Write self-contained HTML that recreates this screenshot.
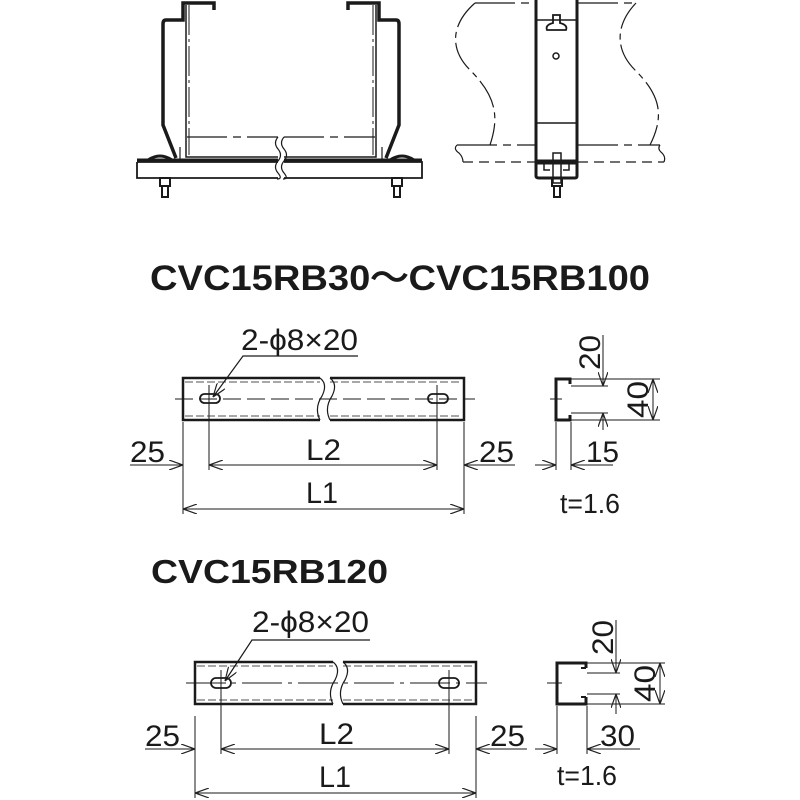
<!DOCTYPE html>
<html><head><meta charset="utf-8"><style>
html,body{margin:0;padding:0;background:#fff;}
svg{display:block;}
text{font-family:"Liberation Sans",sans-serif;fill:#1a1a1a;}
</style></head><body>
<svg width="800" height="800" viewBox="0 0 800 800" xmlns="http://www.w3.org/2000/svg">
<defs>
<marker id="a" markerWidth="14" markerHeight="10" refX="14" refY="5" orient="auto" markerUnits="userSpaceOnUse">
<path d="M0,0 L14,5 L0,10" fill="none" stroke="#222" stroke-width="1.2"/></marker>
<marker id="b" markerWidth="14" markerHeight="10" refX="0" refY="5" orient="auto" markerUnits="userSpaceOnUse">
<path d="M14,0 L0,5 L14,10" fill="none" stroke="#222" stroke-width="1.2"/></marker>
</defs>
<g stroke="#1a1a1a" fill="none">
<!-- top-left view -->
<path d="M214,10 V3 H183 V20 H166 Q163,20 163,24 V125 L176,158" stroke-width="3.5"/>
<path d="M348,10 V3 H379 V20 H396 Q399,20 399,24 V125 L386,158" stroke-width="3.5"/>
<path d="M186,5 V157 H278 M284,157 H376 V5" stroke-width="1.5"/>
<path d="M189,5 V155 M373,5 V155" stroke-width="1" stroke-dasharray="30 4 3 4"/>
<path d="M187,137 H278 M284,137 H375" stroke-width="1.2" stroke-dasharray="40 6 8 6"/>
<path d="M137,162 H278 M284,162 H422 V178 H284 M278,178 H137 V162" stroke-width="1.8"/>
<path d="M137,160 H278 M284,160 H422" stroke-width="3"/>
<path d="M278,137 q-5,6 0,12 q5,6 0,12 q-5,6 0,12 q5,6 -1,6 M284,137 q-5,6 0,12 q5,6 0,12 q-5,6 0,12 q5,6 -1,6" stroke-width="1.2"/>
<path d="M148,160 Q160,152 172,160 M390,160 Q402,152 414,160" stroke-width="3"/>
<path d="M180,147 V160 M382,147 V160" stroke-width="1.2"/>
<rect x="160" y="178" width="10" height="8" stroke-width="2"/>
<rect x="162" y="186" width="6" height="11" stroke-width="2"/>
<rect x="392" y="178" width="10" height="8" stroke-width="2"/>
<rect x="394" y="186" width="6" height="11" stroke-width="2"/>
<!-- top-right view -->
<path d="M475,3 H535 M578,3 H636" stroke-width="1.2" stroke-dasharray="40 6 8 6"/>
<path d="M475,3 C450,25 450,50 470,70 C495,95 500,115 490,145" stroke-width="1.2" stroke-dasharray="30 5 6 5"/>
<path d="M636,3 C615,25 615,50 635,70 C660,95 665,115 650,145" stroke-width="1.2" stroke-dasharray="30 5 6 5"/>
<path d="M457,145 H535 M578,145 H660" stroke-width="1.2" stroke-dasharray="40 6 8 6"/>
<path d="M463,162 H535 M578,162 H664" stroke-width="1.2" stroke-dasharray="10 6"/>
<path d="M457,145 q-4,4 2,8 q4,4 4,9 M660,145 q-3,4 2,8 q4,4 2,9" stroke-width="1.2"/>
<path d="M536,0 V176 Q536,178 539,178 H575 Q577,178 577,176 V0" stroke-width="3"/>
<path d="M536,20 H577 M536,123 H577" stroke-width="1.5"/>
<path d="M553,15 h7 v8 q8,2 6,7 h-19 q-2,-5 6,-7 Z" stroke-width="1.8"/>
<circle cx="556" cy="56" r="3" stroke-width="1.5"/>
<path d="M536,162 H577" stroke-width="5"/>
<path d="M544,164 v6 h6 M569,164 v6 h-6" stroke-width="1.5"/>
<rect x="553" y="153" width="8" height="30" stroke-width="1.5"/>
<rect x="552" y="178" width="10" height="8" stroke-width="2"/>
<rect x="554" y="186" width="6" height="11" stroke-width="2"/>
</g>
<text x="150" y="290" font-size="35" font-weight="bold" textLength="500" lengthAdjust="spacingAndGlyphs">CVC15RB30～CVC15RB100</text>

<!-- bar 1 -->
<g stroke="#1a1a1a" fill="none">
<path d="M320,378 H183 V420 H320 M330,378 H464 V420 H330" stroke-width="2.5"/>
<path d="M185,382 H320 M330,382 H462 M185,416 H320 M330,416 H462" stroke-width="0.8" stroke-dasharray="8 3"/>
<path d="M320,378 q8,6 2,18 q-8,12 -2,24 M330,378 q8,6 2,18 q-8,12 -2,24" stroke-width="1.2"/>
<path d="M175,399 H475" stroke-width="1" stroke-dasharray="18 6"/>
<rect x="200" y="394" width="20" height="9" rx="4.5" stroke-width="1.8"/>
<rect x="428" y="394" width="20" height="9" rx="4.5" stroke-width="1.8"/>
<path d="M209,385 V470 M437,385 V470 M183,422 V514 M464,422 V514" stroke-width="1"/>
<path d="M358,356 H243 L213,397" stroke-width="1.2" marker-end="url(#a)"/>
<path d="M130,465 H183" stroke-width="1" marker-end="url(#a)"/>
<path d="M209,465 H437" stroke-width="1" marker-start="url(#b)" marker-end="url(#a)"/>
<path d="M515,465 H464" stroke-width="1" marker-end="url(#a)"/>
<path d="M183,509 H464" stroke-width="1" marker-start="url(#b)" marker-end="url(#a)"/>
<!-- section 1 -->
<path d="M570,384 V379 H556 V420 H570 V415" stroke-width="3"/>
<path d="M550,399 H562" stroke-width="1"/>
<path d="M571,379 H660 M571,420 H660 M571,386 H608 M571,413 H608" stroke-width="1"/>
<path d="M603,335 V386" stroke-width="1" marker-end="url(#a)"/>
<path d="M603,430 V413" stroke-width="1" marker-end="url(#a)"/>
<path d="M653,379 V420" stroke-width="1" marker-start="url(#b)" marker-end="url(#a)"/>
<path d="M556,422 V470 M571,422 V470" stroke-width="1"/>
<path d="M535,465 H556" stroke-width="1" marker-end="url(#a)"/>
<path d="M613,465 H571" stroke-width="1" marker-end="url(#a)"/>
</g>
<text x="241" y="350" font-size="30" textLength="117" lengthAdjust="spacingAndGlyphs">2-ϕ8×20</text>
<text x="130" y="462" font-size="30" textLength="35" lengthAdjust="spacingAndGlyphs">25</text>
<text x="479" y="462" font-size="30" textLength="35" lengthAdjust="spacingAndGlyphs">25</text>
<text x="306" y="460" font-size="30" textLength="35" lengthAdjust="spacingAndGlyphs">L2</text>
<text x="306" y="503" font-size="30" textLength="32" lengthAdjust="spacingAndGlyphs">L1</text>
<text x="586" y="462" font-size="30" textLength="33" lengthAdjust="spacingAndGlyphs">15</text>
<text x="560" y="513" font-size="28" textLength="60" lengthAdjust="spacingAndGlyphs">t=1.6</text>
<text transform="translate(600,370) rotate(-90)" font-size="30" textLength="35" lengthAdjust="spacingAndGlyphs">20</text>
<text transform="translate(648,418) rotate(-90)" font-size="30" textLength="37" lengthAdjust="spacingAndGlyphs">40</text>

<text x="151" y="583" font-size="33" font-weight="bold" textLength="237" lengthAdjust="spacingAndGlyphs">CVC15RB120</text>

<!-- bar 2 -->
<g stroke="#1a1a1a" fill="none">
<path d="M333,662 H195 V704 H333 M343,662 H476 V704 H343" stroke-width="2.5"/>
<path d="M197,666 H333 M343,666 H474 M197,700 H333 M343,700 H474" stroke-width="0.8" stroke-dasharray="8 3"/>
<path d="M333,662 q8,6 2,18 q-8,12 -2,24 M343,662 q8,6 2,18 q-8,12 -2,24" stroke-width="1.2"/>
<path d="M186,683 H487" stroke-width="1" stroke-dasharray="40 6 4 6"/>
<rect x="211" y="678" width="20" height="10" rx="5" stroke-width="1.8"/>
<rect x="439" y="678" width="20" height="10" rx="5" stroke-width="1.8"/>
<path d="M221,670 V754 M449,670 V754 M195,716 V798 M476,716 V798" stroke-width="1"/>
<path d="M370,640 H252 L225,681" stroke-width="1.2" marker-end="url(#a)"/>
<path d="M145,749 H195" stroke-width="1" marker-end="url(#a)"/>
<path d="M221,749 H449" stroke-width="1" marker-start="url(#b)" marker-end="url(#a)"/>
<path d="M527,749 H476" stroke-width="1" marker-end="url(#a)"/>
<path d="M195,793 H476" stroke-width="1" marker-start="url(#b)" marker-end="url(#a)"/>
<!-- section 2 -->
<path d="M586,668 V663 H557 V704 H586 V697" stroke-width="3"/>
<path d="M581,668 H586 M581,697 H586" stroke-width="2"/>
<path d="M547,683 H562" stroke-width="1"/>
<path d="M587,663 H665 M587,704 H665 M587,673 H620 M587,694 H620" stroke-width="1"/>
<path d="M616,620 V673" stroke-width="1" marker-end="url(#a)"/>
<path d="M616,714 V694" stroke-width="1" marker-end="url(#a)"/>
<path d="M660,663 V704" stroke-width="1" marker-start="url(#b)" marker-end="url(#a)"/>
<path d="M557,706 V754 M587,706 V754" stroke-width="1"/>
<path d="M535,749 H557" stroke-width="1" marker-end="url(#a)"/>
<path d="M640,749 H587" stroke-width="1" marker-end="url(#a)"/>
</g>
<text x="252" y="632" font-size="30" textLength="117" lengthAdjust="spacingAndGlyphs">2-ϕ8×20</text>
<text x="145" y="746" font-size="30" textLength="35" lengthAdjust="spacingAndGlyphs">25</text>
<text x="490" y="746" font-size="30" textLength="35" lengthAdjust="spacingAndGlyphs">25</text>
<text x="319" y="744" font-size="30" textLength="35" lengthAdjust="spacingAndGlyphs">L2</text>
<text x="319" y="787" font-size="30" textLength="32" lengthAdjust="spacingAndGlyphs">L1</text>
<text x="600" y="746" font-size="30" textLength="35" lengthAdjust="spacingAndGlyphs">30</text>
<text x="557" y="785" font-size="28" textLength="60" lengthAdjust="spacingAndGlyphs">t=1.6</text>
<text transform="translate(613,655) rotate(-90)" font-size="30" textLength="35" lengthAdjust="spacingAndGlyphs">20</text>
<text transform="translate(655,702) rotate(-90)" font-size="30" textLength="37" lengthAdjust="spacingAndGlyphs">40</text>
</svg>
</body></html>
